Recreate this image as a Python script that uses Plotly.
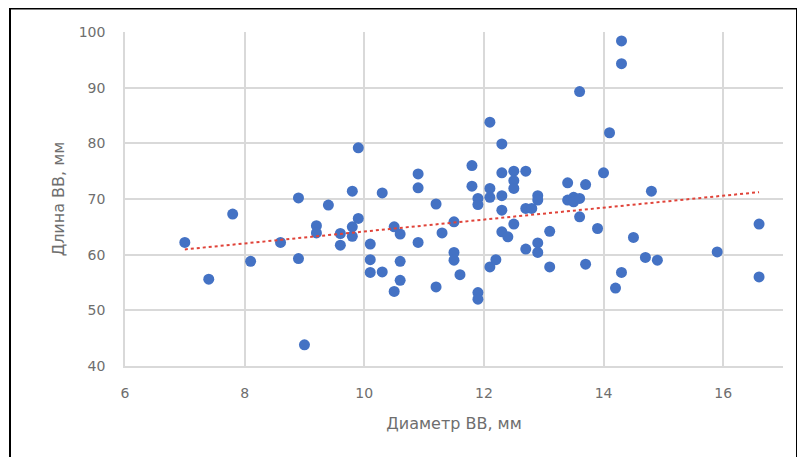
import numpy as np
import plotly.graph_objects as go

# Diameter (mm) and length (mm)
diameter = [7.0, 7.4, 7.8, 8.1, 8.6, 8.9, 8.9, 9.0, 9.2, 9.2,
            9.4, 9.6, 9.6, 9.8, 9.8, 9.8, 9.9, 9.9, 10.1, 10.1,
            10.1, 10.3, 10.3, 10.5, 10.5, 10.6, 10.6, 10.6, 10.9, 10.9,
            10.9, 11.2, 11.2, 11.3, 11.5, 11.5, 11.5, 11.6, 11.8, 11.8,
            11.9, 11.9, 11.9, 11.9, 12.1, 12.1, 12.1, 12.1, 12.2, 12.3,
            12.3, 12.3, 12.3, 12.3, 12.4, 12.5, 12.5, 12.5, 12.5, 12.7,
            12.7, 12.8, 12.7, 12.9, 12.9, 12.9, 12.9, 13.1, 13.1, 13.4,
            13.4, 13.5, 13.5, 13.6, 13.6, 13.6, 13.7, 13.7, 13.9, 14.0,
            14.1, 14.2, 14.3, 14.3, 14.3, 14.5, 14.7, 14.8, 14.9, 15.9,
            16.6, 16.6]
length = [62.2, 55.6, 67.3, 58.8, 62.2, 70.2, 59.3, 43.8, 65.2, 63.9,
          68.9, 63.8, 61.7, 71.4, 65.0, 63.3, 79.2, 66.5, 61.9, 59.1,
          56.8, 71.1, 56.9, 65.0, 53.4, 63.7, 58.8, 55.4, 74.5, 72.0,
          62.2, 69.1, 54.2, 63.9, 65.9, 60.4, 59.0, 56.4, 76.0, 72.3,
          70.1, 69.0, 53.2, 52.0, 83.8, 71.9, 70.3, 57.8, 59.1, 79.9,
          74.7, 70.6, 68.0, 64.1, 63.2, 75.0, 73.3, 71.9, 65.5, 75.0,
          68.3, 68.3, 61.0, 70.6, 69.8, 62.1, 60.4, 64.2, 57.8, 72.9,
          69.8, 70.3, 69.5, 70.1, 89.3, 66.8, 72.6, 58.3, 64.7, 74.7,
          81.9, 54.0, 98.4, 94.3, 56.8, 63.1, 59.5, 71.4, 59.0, 60.5,
          65.5, 56.0]

x_ticks = [6, 8, 10, 12, 14, 16]
y_ticks = [40, 50, 60, 70, 80, 90, 100]
x_title = "Диаметр ВВ, мм"
y_title = "Длина ВВ, мм"

# Linear trendline (least squares, as in the original spreadsheet chart)
slope, intercept = np.polyfit(diameter, length, 1)
trend_x = [min(diameter), max(diameter)]
trend_y = [slope * v + intercept for v in trend_x]

FONT = "'DejaVu Sans', 'Open Sans', sans-serif"
GRID = "#D9D9D9"
TEXT = "#6E6E6E"

# The page body has an 8px margin, so the figure starts at (8, 8) in the window.
W, H = 805, 457
L, R, T, B = 117, 30, 24, 99
PW, PH = W - L - R, H - T - B

fig = go.Figure()
fig.add_trace(go.Scatter(
    x=diameter, y=length, mode="markers",
    marker=dict(color="#4472C4", size=11, line=dict(width=0)),
    showlegend=False, hoverinfo="x+y"))
fig.add_trace(go.Scatter(
    x=trend_x, y=trend_y, mode="lines",
    line=dict(color="#E0443A", width=2, dash="dot"),
    showlegend=False, hoverinfo="skip"))

fig.update_layout(
    width=W, height=H,
    margin=dict(l=L, r=R, t=T, b=B),
    paper_bgcolor="white", plot_bgcolor="white",
    font=dict(family=FONT, color=TEXT, size=14),
    xaxis=dict(range=[6, 17], tickvals=x_ticks, ticktext=[str(v) for v in x_ticks],
               showgrid=True, gridcolor=GRID, gridwidth=1.5,
               zeroline=False, showline=True, linecolor=GRID, linewidth=1.5,
               ticks="", ticklabelstandoff=13, tickfont=dict(size=14),
               title=dict(text=x_title, font=dict(size=16, color=TEXT), standoff=18)),
    yaxis=dict(range=[40, 100], tickvals=y_ticks, ticktext=[str(v) for v in y_ticks],
               showgrid=True, gridcolor=GRID, gridwidth=1.5,
               zeroline=False, showline=True, linecolor=GRID, linewidth=1.5,
               ticks="", ticklabelstandoff=15, tickfont=dict(size=14),
               title=dict(text=y_title, font=dict(size=16, color=TEXT), standoff=10)),
)

# Black outer frame of the picture
fig.add_shape(type="rect", xref="paper", yref="paper",
              x0=(2 - L) / PW, x1=(789 - L) / PW,
              y0=(T + PH - 470) / PH, y1=(T + PH - 0.5) / PH,
              line=dict(color="black", width=2), layer="above")

fig.write_html("out.html")
